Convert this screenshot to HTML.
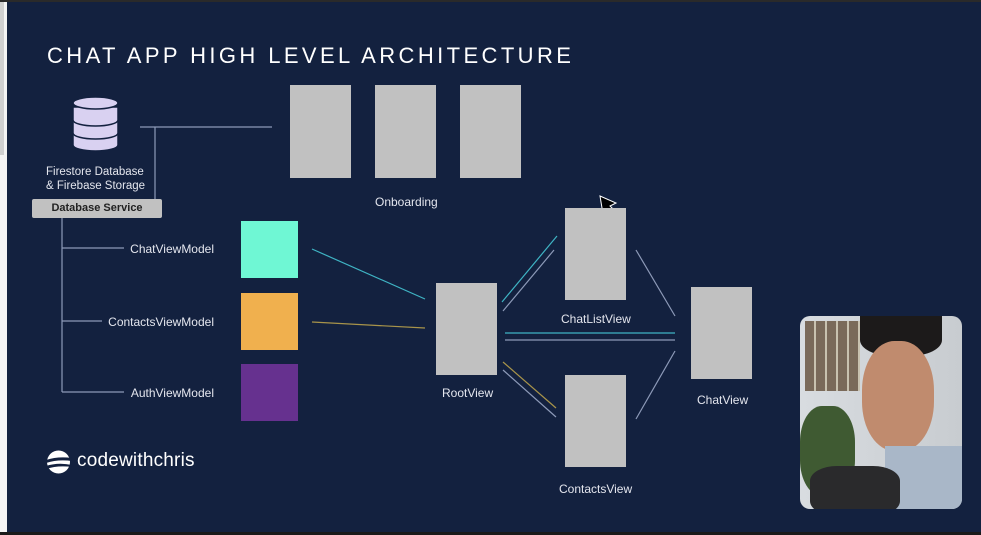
<!DOCTYPE html>
<html><head><style>
body{margin:0;width:981px;height:535px;overflow:hidden;background:#13213f;font-family:"Liberation Sans",sans-serif;}
.t{position:absolute;color:#e4e6ee;font-size:12px;white-space:nowrap}
.g{position:absolute;background:#c1c1c1}
</style></head><body>
<div style="position:absolute;left:0;top:0;width:7px;height:535px;background:#f4f4f4"></div>
<div style="position:absolute;left:0;top:0;width:4px;height:155px;background:#d0d0d0"></div>
<div style="position:absolute;left:0;top:0;width:981px;height:2px;background:#2a2a2a"></div>
<div style="position:absolute;left:0;top:532px;width:981px;height:3px;background:#1a1a1a"></div>
<div style="position:absolute;left:47px;top:43px;color:#fff;font-size:22px;letter-spacing:3.4px;white-space:nowrap">CHAT APP HIGH LEVEL ARCHITECTURE</div>
<svg width="981" height="535" style="position:absolute;left:0;top:0">
<g fill="#d9d1f1" stroke="#13213f" stroke-width="1.5">
<path d="M73,133 v12 a22.5,6 0 0 0 45,0 v-12 z"/>
<path d="M73,120 v13 a22.5,6 0 0 0 45,0 v-13 z"/>
<path d="M73,107 v13 a22.5,6 0 0 0 45,0 v-13 z"/>
<ellipse cx="95.5" cy="103" rx="22.5" ry="6"/>
</g>
<g stroke="#8d9ab8" stroke-width="1.2" fill="none">
<path d="M140,127H272M155,127V199"/>
<path d="M62,218V392M62,248H124M62,321H102M62,392H124"/>
<path d="M503,311L554,250M505,340H675M503,370L556,417M636,250L675,316M675,351L636,419"/>
</g>
<g stroke-width="1.2">
<path d="M312,249L425,299M502,302L557,236M505,333H675" stroke="#3fb4c4"/>
<path d="M312,322L425,328M503,362L556,408" stroke="#a8944a"/>
</g>
<circle cx="58.5" cy="462" r="11.5" fill="#fff"/>
<path d="M46,460 Q58,456 72,458 L72,461 Q58,459 46,463z M46,466 Q58,462 72,465 L72,467 Q58,465 46,469z" fill="#13213f"/>
<path d="M600,196 L603,214 L607,209 L614,216 L617,213 L610,206 L616,203 z" fill="#000" stroke="#fff" stroke-width="1"/>
</svg>
<div class="t" style="left:46px;top:166px;font-size:11.5px">Firestore Database</div>
<div class="t" style="left:46px;top:180px;font-size:11.5px">&amp; Firebase Storage</div>
<div class="g" style="left:32px;top:199px;width:130px;height:19px;border-radius:2px;color:#222;font-weight:bold;font-size:11px;text-align:center;line-height:19px">Database Service</div>
<div class="t" style="right:767px;top:242px">ChatViewModel</div>
<div class="t" style="right:767px;top:315px">ContactsViewModel</div>
<div class="t" style="right:767px;top:386px">AuthViewModel</div>
<div style="position:absolute;left:241px;top:221px;width:57px;height:57px;background:#6ff7d4"></div>
<div style="position:absolute;left:241px;top:293px;width:57px;height:57px;background:#f0b04e"></div>
<div style="position:absolute;left:241px;top:364px;width:57px;height:57px;background:#66318f"></div>
<div class="g" style="left:290px;top:85px;width:61px;height:93px"></div>
<div class="g" style="left:375px;top:85px;width:61px;height:93px"></div>
<div class="g" style="left:460px;top:85px;width:61px;height:93px"></div>
<div class="t" style="left:375px;top:195px">Onboarding</div>
<div class="g" style="left:436px;top:283px;width:61px;height:92px"></div>
<div class="t" style="left:442px;top:386px">RootView</div>
<div class="g" style="left:565px;top:208px;width:61px;height:92px"></div>
<div class="t" style="left:561px;top:312px">ChatListView</div>
<div class="g" style="left:565px;top:375px;width:61px;height:92px"></div>
<div class="t" style="left:559px;top:482px">ContactsView</div>
<div class="g" style="left:691px;top:287px;width:61px;height:92px"></div>
<div class="t" style="left:697px;top:393px">ChatView</div>
<div style="position:absolute;left:77px;top:450px;color:#fff;font-size:19px;letter-spacing:0.2px">codewithchris</div>
<div style="position:absolute;left:800px;top:316px;width:162px;height:193px;border-radius:10px;overflow:hidden;background:linear-gradient(90deg,#d8dce0 0%,#c8ccd0 100%)">
<div style="position:absolute;left:5px;top:5px;width:55px;height:70px;background:repeating-linear-gradient(90deg,#7a6a5a 0 9px,#c9c2b0 9px 11px)"></div>
<div style="position:absolute;left:0;top:90px;width:55px;height:90px;background:#3f5a32;border-radius:40%"></div>
<div style="position:absolute;left:60px;top:0;width:82px;height:40px;background:#1c1a1a;border-radius:0 0 40% 40%"></div>
<div style="position:absolute;left:62px;top:25px;width:72px;height:110px;background:#c08b6e;border-radius:45%"></div>
<div style="position:absolute;left:85px;top:130px;width:80px;height:70px;background:#a9b7c8"></div>
<div style="position:absolute;left:10px;top:150px;width:90px;height:50px;background:#2a2a2c;border-radius:30%"></div>
</div>
</body></html>
